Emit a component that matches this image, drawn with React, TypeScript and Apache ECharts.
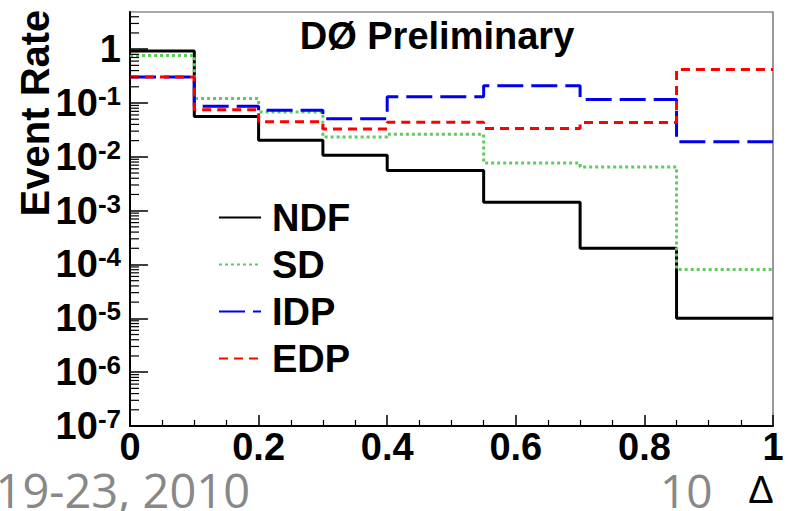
import React, { useEffect, useRef } from 'react';
import * as echarts from 'echarts';

// Histogram bin edges (Delta) and per-bin event rates
const binEdges = [0, 0.1, 0.2, 0.3, 0.4, 0.55, 0.7, 0.85, 1.0];
const ndfRates = [0.92, 0.056, 0.0203, 0.0107, 0.0056, 0.00143, 2.0e-4, 1.0e-5];
const sdRates = [0.76, 0.121, 0.068, 0.0234, 0.0263, 0.0077, 0.0065, 8.1e-5];
const idpRates = [0.305, 0.087, 0.073, 0.051, 0.13, 0.208, 0.116, 0.019];
const edpRates = [0.305, 0.075, 0.0446, 0.033, 0.044, 0.0336, 0.0434, 0.42];

const seriesNames = ['NDF', 'SD', 'IDP', 'EDP'];
const seriesColors = ['#000000', '#5fcb5f', '#0000ee', '#ff0000'];

const yMin = 1e-7;
const yMax = 4.9;
const xTickInterval = 0.2;
// minor log ticks: multipliers within each decade
const minorMultipliers = [2, 3, 4, 5, 6, 7, 8, 9];
const decadeExponents = [-7, -6, -5, -4, -3, -2, -1, 0];

const FONT = '"Liberation Sans", Arial, Helvetica, sans-serif';

function stepData(vals: number[]) {
  return binEdges.map((e, i) => [e, vals[Math.min(i, vals.length - 1)]]);
}

export default function App() {
  const ref = useRef<HTMLDivElement>(null);
  useEffect(() => {
    if (!ref.current) return;
    const chart = echarts.init(ref.current, null, { renderer: 'svg' });
    const minorVals: number[] = [];
    decadeExponents.forEach((k) => {
      minorMultipliers.forEach((m) => {
        const v = m * Math.pow(10, k);
        if (v < yMax) minorVals.push(v);
      });
    });
    const lineSeries = (name: string, vals: number[], color: string, type: any) => ({
      name,
      type: 'line',
      step: 'end',
      symbol: 'none',
      data: stepData(vals),
      lineStyle: { color, width: 3, type },
      itemStyle: { color },
      z: 3,
    });
    chart.setOption({
      animation: false,
      backgroundColor: '#ffffff',
      grid: {
        left: 130,
        right: 15,
        top: 12,
        bottom: 85,
        show: true,
        borderColor: '#555',
        borderWidth: 1.2,
        backgroundColor: '#fff',
      },
      legend: {
        data: seriesNames,
        orient: 'vertical',
        left: 213,
        top: 189,
        itemWidth: 42,
        itemHeight: 12,
        itemGap: 0,
        lineStyle: { width: 2 },
        itemStyle: { opacity: 0 },
        textStyle: {
          fontFamily: FONT,
          fontWeight: 'bold',
          fontSize: 38,
          color: '#000',
          lineHeight: 47,
          padding: [0, 0, 0, 6],
        },
      },
      xAxis: {
        type: 'value',
        min: 0,
        max: 1,
        interval: xTickInterval,
        axisLine: { lineStyle: { color: '#000', width: 2 } },
        axisTick: { inside: true, length: 11, lineStyle: { color: '#000', width: 1.5 } },
        minorTick: { show: true, splitNumber: 4, length: 6, lineStyle: { color: '#000', width: 1.2 } },
        splitLine: { show: false },
        axisLabel: {
          margin: 2,
          fontFamily: FONT,
          fontWeight: 'bold',
          fontSize: 38,
          color: '#000',
          formatter: (v: number) => (v === 0 ? '0' : v === 1 ? '1' : String(Number(v.toFixed(1)))),
        },
      },
      yAxis: {
        type: 'log',
        logBase: 10,
        min: yMin,
        max: yMax,
        splitNumber: 8,
        axisLine: { lineStyle: { color: '#000', width: 2 } },
        axisTick: { inside: true, length: 18, lineStyle: { color: '#000', width: 1.5 } },
        splitLine: { show: false },
        axisLabel: {
          margin: 9,
          showMaxLabel: false,
          formatter: (v: number) => {
            const e = Math.round(Math.log10(v));
            return e === 0 ? '{b|1}' : `{b|10}{s|${e}}`;
          },
          rich: {
            b: { fontFamily: FONT, fontWeight: 'bold', fontSize: 38, color: '#000', lineHeight: 40 },
            s: {
              fontFamily: FONT,
              fontWeight: 'bold',
              fontSize: 26,
              color: '#000',
              lineHeight: 26,
              verticalAlign: 'top',
            },
          },
        },
      },
      series: [
        lineSeries(seriesNames[0], ndfRates, seriesColors[0], 'solid'),
        lineSeries(seriesNames[1], sdRates, seriesColors[1], [3, 3]),
        lineSeries(seriesNames[2], idpRates, seriesColors[2], [26, 8]),
        lineSeries(seriesNames[3], edpRates, seriesColors[3], [9, 6]),
        {
          type: 'custom',
          silent: true,
          clip: false,
          z: 5,
          data: minorVals.map((v) => [0, v]),
          renderItem: (params: any, api: any) => {
            const p = api.coord([0, api.value(1)]);
            return {
              type: 'line',
              shape: { x1: p[0], y1: p[1], x2: p[0] + 9, y2: p[1] },
              style: { stroke: '#000', lineWidth: 1.2 },
            };
          },
        },
      ],
      graphic: [
        {
          type: 'text',
          x: 437,
          y: 36,
          style: {
            text: 'DØ Preliminary',
            fontFamily: FONT,
            fontWeight: 'bold',
            fontSize: 38,
            fill: '#000',
            textAlign: 'center',
            textVerticalAlign: 'middle',
          },
        },
        {
          type: 'text',
          x: 35,
          y: 113,
          rotation: Math.PI / 2,
          style: {
            text: 'Event Rate',
            fontFamily: FONT,
            fontWeight: 'bold',
            fontSize: 40,
            fill: '#000',
            textAlign: 'center',
            textVerticalAlign: 'middle',
          },
        },
        {
          type: 'text',
          x: 250,
          y: 490,
          style: {
            text: '19-23, 2010',
            fontFamily: '"Open Sans", "Noto Sans", sans-serif',
            fontSize: 47,
            fill: '#888888',
            textAlign: 'right',
            textVerticalAlign: 'middle',
          },
        },
        {
          type: 'text',
          x: 660,
          y: 490,
          style: {
            text: '10',
            fontFamily: '"Open Sans", "Noto Sans", sans-serif',
            fontSize: 46,
            fill: '#888888',
            textAlign: 'left',
            textVerticalAlign: 'middle',
          },
        },
        {
          type: 'text',
          x: 761,
          y: 490,
          style: {
            text: 'Δ',
            fontFamily: FONT,
            fontSize: 38,
            fill: '#000',
            textAlign: 'center',
            textVerticalAlign: 'middle',
          },
        },
      ],
    });
    return () => chart.dispose();
  }, []);
  return (
    <div
      ref={ref}
      style={{ position: 'fixed', left: 0, top: 0, width: 788, height: 511, background: '#fff' }}
    />
  );
}
